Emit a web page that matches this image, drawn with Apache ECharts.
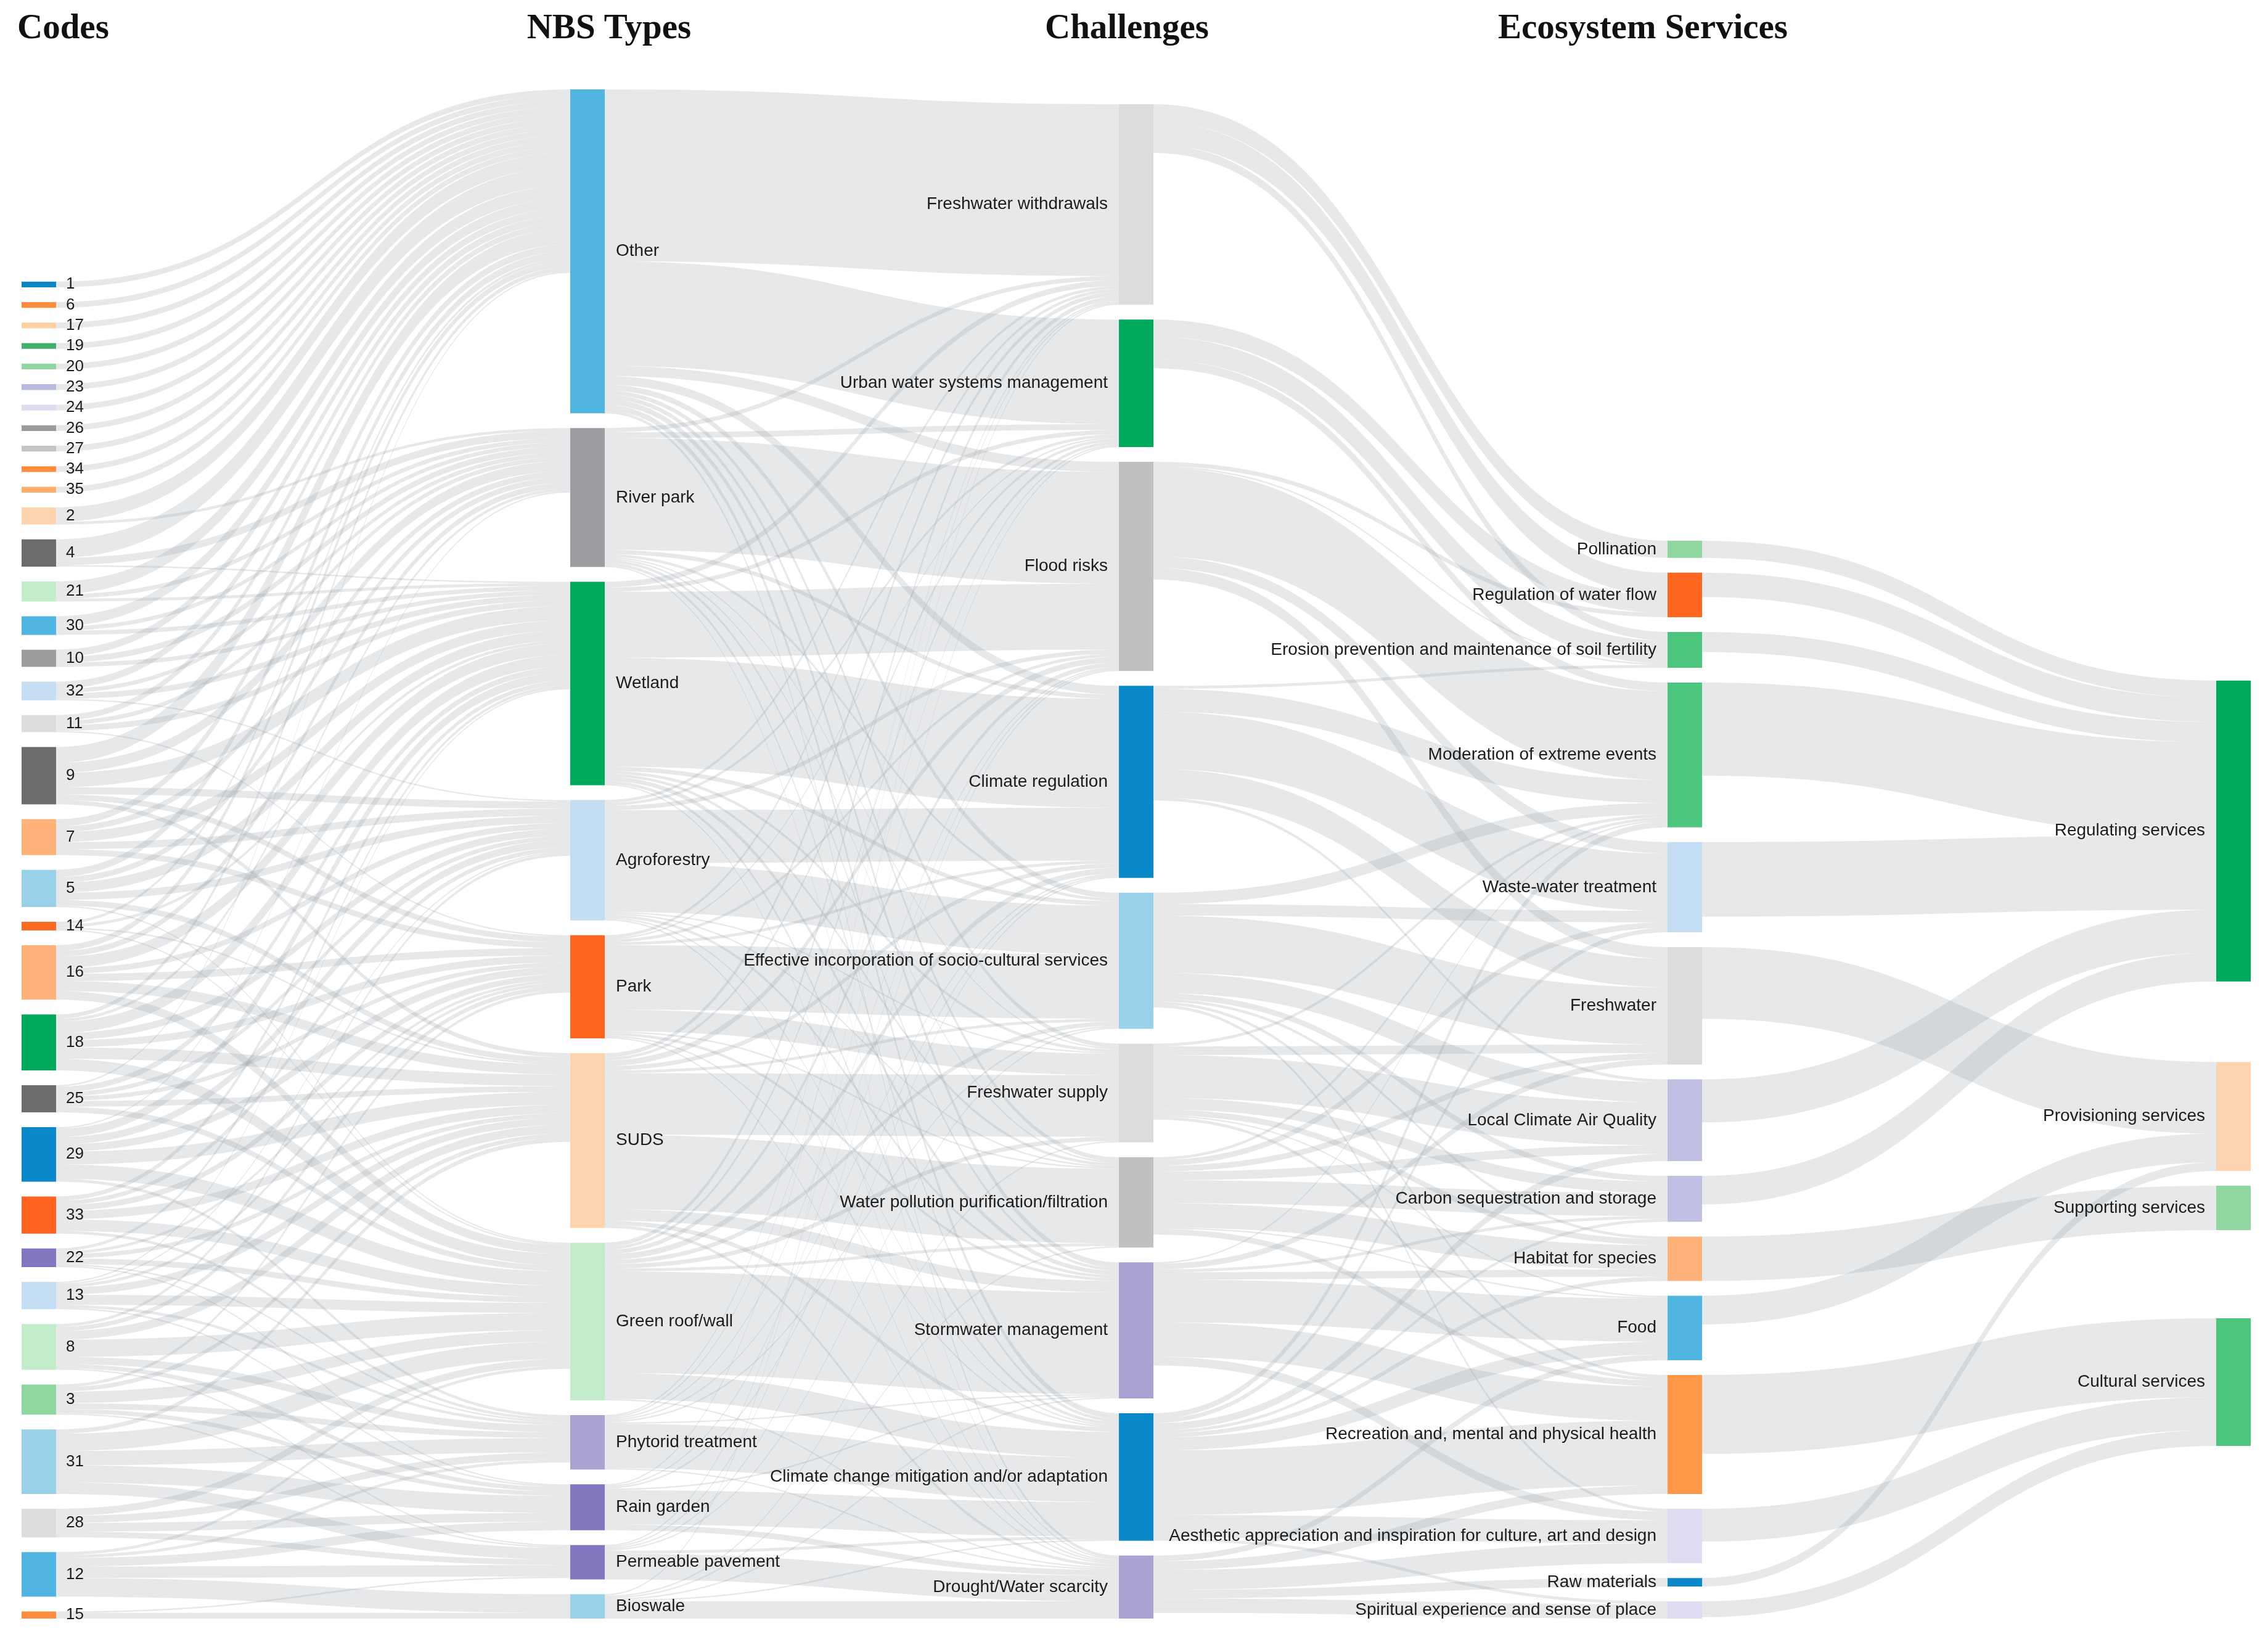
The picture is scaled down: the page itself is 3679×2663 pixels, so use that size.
<!DOCTYPE html>
<html>
<head>
<meta charset="utf-8">
<script src="https://cdn.jsdelivr.net/npm/echarts/dist/echarts.min.js"></script>
<style>
html,body{margin:0;padding:0;background:#ffffff;}
#chart{width:3679px;height:2663px;}
</style>
</head>
<body>
<div id="chart"></div>
<script>
// ---------- column titles ----------
const columnTitles = ['Codes', 'NBS Types', 'Challenges', 'Ecosystem Services'];

// ---------- node names (top-to-bottom order of the reference) ----------
const codes = ['1','6','17','19','20','23','24','26','27','34','35','2','4','21','30','10','32','11','9','7','5','14','16','18','25','29','33','22','13','8','3','31','28','12','15'];
const nbsTypes = ['Other','River park','Wetland','Agroforestry','Park','SUDS','Green roof/wall','Phytorid treatment','Rain garden','Permeable pavement','Bioswale'];
const challenges = ['Freshwater withdrawals','Urban water systems management','Flood risks','Climate regulation','Effective incorporation of socio-cultural services','Freshwater supply','Water pollution purification/filtration','Stormwater management','Climate change mitigation and/or adaptation','Drought/Water scarcity'];
const services = ['Pollination','Regulation of water flow','Erosion prevention and maintenance of soil fertility','Moderation of extreme events','Waste-water treatment','Freshwater','Local Climate Air Quality','Carbon sequestration and storage','Habitat for species','Food','Recreation and, mental and physical health','Aesthetic appreciation and inspiration for culture, art and design','Raw materials','Spiritual experience and sense of place'];
const serviceGroups = ['Regulating services','Provisioning services','Supporting services','Cultural services'];

// ---------- flow values (rows = source order, columns = target order) ----------
// codes -> NBS types [Other, River park, Wetland, Agroforestry, Park, SUDS, Green roof/wall, Phytorid, Rain garden, Permeable, Bioswale]
const codeToNbs = [
  [4,0,0,0,0,0,0,0,0,0,0],   // 1
  [4,0,0,0,0,0,0,0,0,0,0],   // 6
  [4,0,0,0,0,0,0,0,0,0,0],   // 17
  [4,0,0,0,0,0,0,0,0,0,0],   // 19
  [4,0,0,0,0,0,0,0,0,0,0],   // 20
  [4,0,0,0,0,0,0,0,0,0,0],   // 23
  [4,0,0,0,0,0,0,0,0,0,0],   // 24
  [4,0,0,0,0,0,0,0,0,0,0],   // 26
  [4,0,0,0,0,0,0,0,0,0,0],   // 27
  [4,0,0,0,0,0,0,0,0,0,0],   // 34
  [4,0,0,0,0,0,0,0,0,0,0],   // 35
  [10,2,0,0,0,0,0,0,0,0,0],  // 2
  [13,5,1,0,0,0,0,0,0,0,0],  // 4
  [9,3,2,0,0,0,0,0,0,0,0],   // 21
  [7,3,3,0,0,0,0,0,0,0,0],   // 30
  [5,4,3,0,0,0,0,0,0,0,0],   // 10
  [5,3,4,1,0,0,0,0,0,0,0],   // 32
  [4,3,4,0,1,0,0,0,0,0,0],   // 11
  [11,7,10,5,4,3,0,0,0,0,0], // 9
  [5,4,7,5,4,0,0,0,0,0,0],   // 7
  [5,4,7,5,0,4,1,0,0,0,0],   // 5
  [2,0,2,0,0,1,1,0,0,0,0],   // 14
  [4,4,8,4,5,7,6,0,0,0,0],   // 16
  [3,2,8,5,5,8,8,0,0,0,0],   // 18
  [1,0,4,3,3,4,4,0,0,0,0],   // 25
  [0,1,6,5,5,9,10,2,0,0,0],  // 29
  [0,0,3,3,4,6,8,2,0,0,0],   // 33
  [0,0,2,0,2,3,4,1,1,0,0],   // 22
  [0,0,1,1,2,5,7,2,1,0,0],   // 13
  [0,0,0,2,3,6,12,5,3,1,0],  // 8
  [0,0,0,0,2,3,8,4,3,1,0],   // 3
  [0,0,0,0,0,3,12,10,12,8,0],// 31
  [0,0,0,0,0,0,5,5,6,4,0],   // 28
  [0,0,0,0,0,0,2,2,6,8,13],  // 12
  [0,0,0,0,0,0,0,0,0,1,4]    // 15
];
// NBS types -> challenges
const nbsToChallenge = [
  [120,73,7,6,4,3,3,4,4,2],   // Other
  [3,4,78,3,2,1,1,2,2,1],     // River park
  [4,3,46,76,3,2,2,3,2,1],    // Wetland
  [2,2,3,37,34,1,1,2,1,1],    // Agroforestry
  [2,1,2,2,45,15,1,2,1,1],    // Park
  [3,2,4,3,2,43,52,8,3,2],    // SUDS
  [3,2,3,4,3,3,2,71,18,1],    // Green roof/wall
  [1,1,1,1,1,0,0,1,31,1],     // Phytorid treatment
  [1,0,1,1,0,0,0,1,24,4],     // Rain garden
  [0,1,1,1,1,0,0,0,2,18],     // Permeable pavement
  [1,0,0,0,0,1,1,1,1,12]      // Bioswale
];
// challenges -> ecosystem services
const challengeToService = [
  [12,16,6,0,0,0,0,0,0,0,0,0,0,0],
  [0,12,16,6,0,0,0,0,0,0,0,0,0,0],
  [0,3,1,62,8,8,0,0,0,0,0,0,0,0],
  [0,0,2,16,40,20,2,0,0,0,0,0,0,0],
  [0,0,0,8,8,40,14,4,2,0,2,2,0,0],
  [0,0,0,2,0,6,30,8,4,1,2,0,0,0],
  [0,0,0,2,4,4,6,16,17,1,4,0,0,0],
  [0,0,0,1,0,4,0,2,5,30,24,6,0,0],
  [0,0,0,4,3,0,5,2,3,9,45,16,0,2],
  [0,0,0,0,0,0,0,0,0,4,6,14,6,10]
];
// ecosystem services -> service groups [Regulating, Provisioning, Supporting, Cultural]
const serviceToGroup = [
  [12,0,0,0],[17,0,0,0],[14,0,0,0],[65,0,0,0],[52,0,0,0],[0,50,0,0],[30,0,0,0],
  [20,0,0,0],[0,0,31,0],[0,20,0,0],[0,0,0,55],[0,0,0,23],[0,6,0,0],[0,0,0,11]
];

// ---------- styles ----------
const nodeColors = {
  '1':'#0b84c4','6':'#fd8d3c','17':'#fdd0a2','19':'#41b06a','20':'#8fd6a0','23':'#bab9df','24':'#dcdcee',
  '26':'#9a9a9a','27':'#c4c4c4','34':'#fd8d3c','35':'#fdae6b','2':'#fdd4ae','4':'#6b6c6e','21':'#c3eccb',
  '30':'#4fb4e0','10':'#9c9c9e','32':'#c6def3','11':'#dcdcdc','9':'#6b6c6e','7':'#feb27a','5':'#99d0ea',
  '14':'#fd6a22','16':'#feb27a','18':'#00a95c','25':'#6b6c6e','29':'#0a88c9','33':'#fe6420','22':'#8176bf',
  '13':'#c6def3','8':'#c3eccb','3':'#8fd6a0','31':'#99d0ea','28':'#dcdcdc','12':'#4fb4e0','15':'#fd8d3c',
  'Other':'#50b5e0','River park':'#9c9da0','Wetland':'#00a95c','Agroforestry':'#c2dcf2','Park':'#fe6620',
  'SUDS':'#fdd4ae','Green roof/wall':'#c3eccb','Phytorid treatment':'#a9a2d2','Rain garden':'#8176bf',
  'Permeable pavement':'#8176bf','Bioswale':'#99d0ea',
  'Freshwater withdrawals':'#dcdcdc','Urban water systems management':'#00a95c','Flood risks':'#c0c0c2',
  'Climate regulation':'#0a88c9','Effective incorporation of socio-cultural services':'#99d0ea',
  'Freshwater supply':'#dcdcdc','Water pollution purification/filtration':'#c0c0c2',
  'Stormwater management':'#a9a2d2','Climate change mitigation and/or adaptation':'#0a88c9',
  'Drought/Water scarcity':'#a9a2d2',
  'Pollination':'#8fd6a0','Regulation of water flow':'#fe6620',
  'Erosion prevention and maintenance of soil fertility':'#4cc67e','Moderation of extreme events':'#4cc67e',
  'Waste-water treatment':'#c6def3','Freshwater':'#dcdcdc','Local Climate Air Quality':'#c2c0e2',
  'Carbon sequestration and storage':'#c2c0e2','Habitat for species':'#feb27a','Food':'#50b5e0',
  'Recreation and, mental and physical health':'#fe9848',
  'Aesthetic appreciation and inspiration for culture, art and design':'#dedcf0',
  'Raw materials':'#0a88c9','Spiritual experience and sense of place':'#dedcf0',
  'Regulating services':'#00a95c','Provisioning services':'#fdd4ae','Supporting services':'#8fd6a0',
  'Cultural services':'#4cc67e'
};
const titleCenters = [null, 988, 1828, 2665];

// ---------- build nodes & links ----------
const nodes = [];
[codes, nbsTypes, challenges, services, serviceGroups].forEach(function (col) {
  col.forEach(function (n) { nodes.push({ name: n, itemStyle: { color: nodeColors[n] } }); });
});
const links = [];
function addMatrix(src, dst, m) {
  m.forEach(function (row, i) {
    row.forEach(function (v, j) {
      if (v > 0) links.push({ source: src[i], target: dst[j], value: v });
    });
  });
}
addMatrix(codes, nbsTypes, codeToNbs);
addMatrix(nbsTypes, challenges, nbsToChallenge);
addMatrix(challenges, services, challengeToService);
addMatrix(services, serviceGroups, serviceToGroup);

const titleFont = { fontFamily: 'Liberation Serif', fontWeight: 'bold', fontSize: 57, fill: '#111111' };
const graphics = columnTitles.map(function (t, i) {
  return {
    type: 'text',
    x: i === 0 ? 28 : titleCenters[i],
    y: 47,
    style: Object.assign({ text: t, align: i === 0 ? 'left' : 'center', verticalAlign: 'middle' }, titleFont),
    silent: true
  };
});

const chart = echarts.init(document.getElementById('chart'), null, { renderer: 'canvas' });
chart.setOption({
  backgroundColor: '#ffffff',
  animation: false,
  graphic: graphics,
  series: [{
    type: 'sankey',
    left: 35, right: 28, top: 145, bottom: 38,
    nodeWidth: 56,
    nodeGap: 24,
    nodeAlign: 'justify',
    layoutIterations: 32,
    draggable: false,
    emphasis: { disabled: true },
    itemStyle: { borderWidth: 0 },
    lineStyle: { color: '#9aa3ab', opacity: 0.25, curveness: 0.5 },
    label: { fontFamily: 'Liberation Sans', fontSize: 28, color: '#1c1c1c' },
    levels: [
      { depth: 0, label: { position: 'right', distance: 16, fontSize: 26 } },
      { depth: 1, label: { position: 'right', distance: 18 } },
      { depth: 2, label: { position: 'left', distance: 18 } },
      { depth: 3, label: { position: 'left', distance: 18 } },
      { depth: 4, label: { position: 'left', distance: 18 } }
    ],
    data: nodes,
    links: links
  }]
});
</script>
</body>
</html>
